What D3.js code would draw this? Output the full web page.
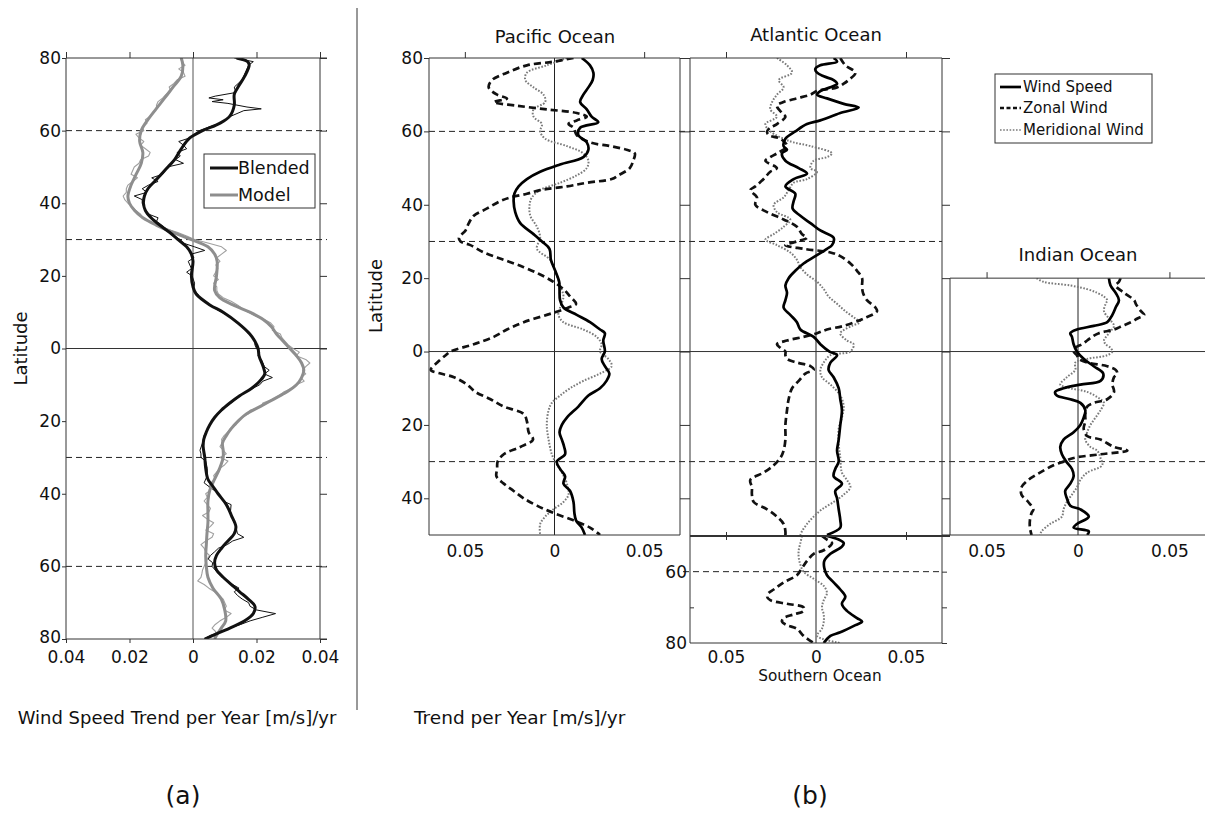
<!DOCTYPE html>
<html><head><meta charset="utf-8">
<script src="https://cdn.jsdelivr.net/npm/d3@7"></script>
<style>
html,body{margin:0;padding:0;background:#fff;}
svg{display:block;font-family:"DejaVu Sans",Verdana,sans-serif;}
</style></head>
<body><svg id="c" width="1205" height="814"></svg>
<script>
// ---------- DATA: panel (a) [latitude, trend] ----------
const blendedSmooth = [[80,0.0137],[79,0.0172],[78,0.0177],[75,0.0163],[72,0.0142],[70,0.0130],[67,0.0130],[64,0.0116],[62,0.0084],[60,0.0030],[58,-0.0010],[55,-0.0037],[52,-0.0058],[50,-0.0079],[47,-0.0110],[44,-0.0142],[42,-0.0153],[40,-0.0156],[38,-0.0150],[36,-0.0132],[34,-0.0105],[32,-0.0074],[30,-0.0047],[28,-0.0020],[26,-0.0005],[24,0.0000],[20,-0.0005],[17,0.0000],[15,0.0010],[12,0.0053],[10,0.0095],[7,0.0142],[4,0.0179],[2,0.0195],[0,0.0205],[-2,0.0208],[-5,0.0221],[-7,0.0226],[-9,0.0210],[-11,0.0184],[-13,0.0147],[-15,0.0116],[-17,0.0089],[-19,0.0068],[-21,0.0053],[-23,0.0042],[-25,0.0034],[-27,0.0032],[-30,0.0037],[-33,0.0040],[-36,0.0047],[-38,0.0063],[-40,0.0079],[-43,0.0105],[-46,0.0121],[-49,0.0135],[-51,0.0130],[-53,0.0110],[-55,0.0090],[-57,0.0074],[-59,0.0068],[-61,0.0074],[-63,0.0095],[-65,0.0121],[-67,0.0147],[-69,0.0174],[-71,0.0195],[-73,0.0190],[-75,0.0163],[-77,0.0116],[-79,0.0063],[-80,0.0037]];
const blendedRaw = [[80,0.013],[79,0.019],[78,0.0175],[76,0.0165],[74,0.0155],[72,0.013],[70.5,0.0135],[69.5,0.007],[69,0.005],[68.5,0.0095],[68,0.006],[67.5,0.011],[66.5,0.017],[66,0.0215],[65.5,0.016],[64,0.012],[62,0.0085],[61,0.005],[60,0.002],[59,0.0005],[58,-0.001],[57,-0.0045],[56,-0.003],[55,-0.002],[54,-0.005],[53,-0.004],[52,-0.0055],[51,-0.003],[50,-0.008],[48,-0.0095],[47,-0.013],[46,-0.011],[45,-0.014],[44,-0.016],[43,-0.0145],[42,-0.0185],[41,-0.016],[40,-0.016],[39,-0.0155],[37,-0.014],[36,-0.011],[35,-0.0115],[34,-0.010],[33,-0.0085],[32,-0.0075],[31,-0.006],[30,-0.004],[29,-0.003],[28,0.0005],[27,0.0037],[26,-0.0005],[25,0.0003],[24,-0.0015],[22,-0.0005],[21,-0.002],[20,-0.0003],[18,0.0005],[16,0.0002],[15,0.0015],[14,0.002],[12,0.005],[11,0.007],[10,0.009],[9,0.011],[8,0.0125],[7,0.014],[6,0.0155],[5,0.0165],[4,0.0175],[3,0.019],[2,0.0195],[1,0.0195],[0,0.020],[-1,0.021],[-2,0.0205],[-3,0.0215],[-5,0.0225],[-6,0.024],[-7,0.0225],[-8,0.025],[-9,0.022],[-10,0.021],[-12,0.0165],[-14,0.0135],[-16,0.0105],[-18,0.008],[-20,0.006],[-22,0.0048],[-24,0.0035],[-26,0.003],[-28,0.0022],[-29,0.0025],[-30,0.0025],[-31,0.004],[-33,0.0045],[-35,0.0045],[-37,0.0035],[-38,0.005],[-40,0.0082],[-42,0.0095],[-43,0.012],[-45,0.0118],[-47,0.0125],[-49,0.0135],[-51,0.014],[-52,0.016],[-53,0.0125],[-54,0.0108],[-55,0.008],[-56,0.0068],[-57,0.0055],[-58,0.0048],[-59,0.0062],[-60,0.006],[-62,0.008],[-64,0.0105],[-65,0.0125],[-66,0.0145],[-67,0.013],[-68,0.014],[-69,0.0155],[-70,0.0175],[-71,0.018],[-72,0.020],[-73,0.026],[-74,0.022],[-75,0.018],[-76,0.015],[-77,0.0115],[-78,0.009],[-79,0.0055],[-80,0.0035]];
const modelSmooth = [[80,-0.0037],[78,-0.0032],[75,-0.0037],[72,-0.0063],[69,-0.0089],[66,-0.0116],[63,-0.0142],[60,-0.0163],[57,-0.0168],[54,-0.0158],[51,-0.0163],[48,-0.0179],[45,-0.0195],[42,-0.0205],[40,-0.0200],[38,-0.0184],[36,-0.0158],[34,-0.0116],[32,-0.0063],[30,-0.0005],[28,0.0047],[26,0.0068],[24,0.0076],[20,0.0074],[16,0.0068],[14,0.0084],[12,0.0126],[10,0.0179],[8,0.0221],[6,0.0247],[4,0.0263],[2,0.0284],[0,0.0305],[-2,0.0326],[-4,0.0342],[-6,0.0349],[-8,0.0342],[-10,0.0326],[-12,0.0295],[-14,0.0253],[-16,0.0211],[-18,0.0168],[-20,0.0142],[-22,0.0121],[-24,0.0105],[-26,0.0093],[-28,0.0095],[-30,0.0095],[-33,0.0084],[-36,0.0068],[-39,0.0053],[-42,0.0047],[-45,0.0047],[-48,0.0047],[-51,0.0044],[-54,0.0042],[-57,0.0040],[-60,0.0042],[-63,0.0047],[-66,0.0063],[-69,0.0089],[-72,0.0100],[-75,0.0103],[-77,0.0089],[-79,0.0074],[-80,0.0068]];
const modelRaw = [[80,-0.004],[79,-0.0035],[78,-0.0025],[77,-0.0045],[76,-0.003],[75,-0.0025],[74,-0.005],[73,-0.006],[72,-0.0075],[71,-0.007],[70,-0.0085],[69,-0.0095],[68,-0.011],[67,-0.0115],[66,-0.0115],[65,-0.0125],[64,-0.0135],[63,-0.015],[62,-0.0145],[61,-0.016],[60,-0.0155],[59,-0.018],[58,-0.017],[57,-0.0155],[56,-0.0165],[55,-0.015],[54,-0.0135],[53,-0.014],[52,-0.0165],[51,-0.017],[50,-0.0185],[48,-0.0195],[47,-0.0175],[46,-0.019],[45,-0.0205],[44,-0.021],[43,-0.021],[42,-0.022],[41,-0.0215],[40,-0.0205],[39,-0.019],[38,-0.018],[37,-0.0165],[36,-0.016],[35,-0.0135],[34,-0.0115],[33,-0.0085],[32,-0.005],[31,-0.002],[30,0.0005],[29,0.005],[28,0.009],[27,0.0105],[26,0.009],[25,0.0075],[24,0.0085],[23,0.0072],[22,0.0078],[20,0.0065],[19,0.008],[18,0.0065],[17,0.0075],[16,0.0075],[15,0.008],[14,0.0095],[13,0.012],[12,0.014],[11,0.0155],[10,0.0175],[9,0.0195],[8,0.0225],[7,0.0245],[6,0.0255],[5,0.025],[4,0.0275],[3,0.028],[2,0.029],[1,0.030],[0,0.0315],[-1,0.0335],[-2,0.0325],[-3,0.0355],[-4,0.0368],[-5,0.0355],[-6,0.0345],[-7,0.0355],[-8,0.034],[-9,0.035],[-10,0.0325],[-11,0.031],[-12,0.0285],[-13,0.027],[-14,0.025],[-15,0.022],[-16,0.0215],[-17,0.018],[-18,0.0175],[-19,0.0155],[-20,0.014],[-21,0.0135],[-22,0.0118],[-23,0.011],[-24,0.0098],[-25,0.009],[-26,0.0092],[-27,0.0085],[-28,0.0095],[-29,0.0105],[-30,0.0085],[-31,0.011],[-32,0.010],[-33,0.0085],[-34,0.0075],[-35,0.0065],[-36,0.007],[-37,0.0055],[-38,0.005],[-39,0.0055],[-40,0.004],[-41,0.0045],[-42,0.0035],[-43,0.0045],[-44,0.0055],[-45,0.005],[-46,0.003],[-47,0.0045],[-48,0.0065],[-49,0.0055],[-50,0.004],[-51,0.0065],[-52,0.006],[-53,0.004],[-54,0.0025],[-55,0.0035],[-56,0.004],[-57,0.0052],[-58,0.0045],[-59,0.004],[-60,0.0035],[-61,0.003],[-62,0.0028],[-63,0.0025],[-64,0.0015],[-65,0.0035],[-66,0.005],[-67,0.0068],[-68,0.0082],[-69,0.0095],[-70,0.010],[-71,0.0105],[-72,0.0098],[-73,0.012],[-74,0.0105],[-75,0.0085],[-76,0.007],[-77,0.006],[-78,0.0072],[-79,0.0068],[-80,0.0068]];

// ---------- DATA: panel (b) [latitude, trend] ----------
const pacificSpeed = [[80,0.0152],[78,0.0198],[76,0.0217],[74,0.0213],[72,0.0189],[70,0.0161],[68,0.0143],[66,0.0180],[64,0.0207],[62.5,0.0244],[61,0.0143],[59,0.0133],[57,0.0180],[55,0.0189],[53,0.0161],[51,0.0031],[49,-0.0080],[47,-0.0154],[45,-0.0200],[43,-0.0224],[41,-0.0228],[38,-0.0219],[35,-0.0191],[32,-0.0117],[30,-0.0070],[28,-0.0028],[25,-0.0020],[22,0.0004],[19,0.0026],[17,0.0028],[14,0.0031],[12,0.0050],[10,0.0124],[8,0.0198],[6,0.0254],[5,0.0281],[3,0.0272],[0,0.0281],[-2,0.0263],[-4,0.0281],[-6,0.0306],[-8,0.0290],[-10,0.0254],[-12,0.0189],[-15,0.0133],[-18,0.0069],[-20,0.0041],[-22,0.0028],[-24,0.0041],[-26,0.0054],[-28,0.0059],[-30,0.0013],[-32,0.0031],[-34,0.0059],[-36,0.0050],[-38,0.0087],[-41,0.0106],[-44,0.0111],[-46,0.0120],[-48,0.0152],[-50,0.0170]];
const pacificZonal = [[80,0.0106],[79,-0.0006],[78,-0.0154],[76,-0.0265],[74,-0.0348],[72,-0.0367],[70,-0.0320],[69,-0.0265],[68,-0.0339],[67,-0.0209],[66,-0.0043],[65,0.0124],[64,0.0180],[63,0.0124],[62,0.0078],[61,0.0106],[59,0.0124],[57,0.0198],[56,0.0309],[55,0.0402],[54,0.0448],[52,0.0439],[50,0.0420],[48,0.0356],[47,0.0319],[46,0.0180],[45,0.0069],[44,-0.0080],[43,-0.0154],[42,-0.0246],[41,-0.0302],[39,-0.0376],[37,-0.0450],[35,-0.0478],[33,-0.0496],[31,-0.0533],[30,-0.0524],[29,-0.0469],[27,-0.0394],[25,-0.0283],[23,-0.0172],[21,-0.0080],[19,-0.0006],[17,0.0050],[15,0.0087],[13,0.0120],[12,0.0078],[11,0.0022],[10,-0.0043],[8,-0.0172],[6,-0.0265],[4,-0.0339],[2,-0.0450],[0,-0.0580],[-1,-0.0607],[-3,-0.0654],[-5,-0.0690],[-6,-0.0635],[-7,-0.0561],[-9,-0.0487],[-11,-0.0441],[-13,-0.0357],[-15,-0.0283],[-17,-0.0172],[-19,-0.0154],[-22,-0.0144],[-24,-0.0120],[-26,-0.0191],[-28,-0.0283],[-30,-0.0317],[-32,-0.0320],[-34,-0.0324],[-36,-0.0283],[-38,-0.0228],[-40,-0.0172],[-42,-0.0098],[-44,-0.0006],[-46,0.0106],[-48,0.0198],[-50,0.0254]];
const pacificMerid = [[80,0.0069],[78,-0.0043],[76,-0.0154],[74,-0.0163],[72,-0.0117],[70,-0.0061],[68,-0.0052],[66,-0.0117],[64,-0.0117],[62,-0.0070],[60,-0.0080],[58,-0.0052],[56,0.0069],[54,0.0161],[52,0.0189],[50,0.0180],[48,0.0124],[46,0.0031],[44,-0.0080],[42,-0.0126],[40,-0.0139],[37,-0.0135],[34,-0.0098],[31,-0.0080],[28,-0.0098],[25,-0.0024],[22,0.0004],[18,0.0031],[15,0.0050],[12,0.0031],[10,0.0022],[8,0.0050],[6,0.0161],[4,0.0235],[2,0.0263],[0,0.0254],[-2,0.0300],[-4,0.0319],[-6,0.0254],[-8,0.0161],[-10,0.0087],[-12,0.0031],[-14,-0.0015],[-16,-0.0033],[-20,-0.0043],[-24,-0.0033],[-28,-0.0015],[-30,0.0004],[-33,0.0041],[-36,0.0069],[-39,0.0078],[-41,0.0050],[-43,-0.0006],[-45,-0.0052],[-47,-0.0080],[-50,-0.0080]];

const atlanticSpeed = [[80,0.0098],[79,0.0117],[78,0.0024],[77,-0.0004],[76,0.0006],[75,0.0043],[74,0.0098],[73,0.0117],[72,0.0080],[71,0.0024],[70,0.0006],[69,0.0061],[67.5,0.0154],[66.5,0.0237],[65,0.0135],[63,0.0024],[62,-0.0050],[60,-0.0115],[58,-0.0170],[56,-0.0180],[55,-0.0161],[54,-0.0189],[52,-0.0170],[50,-0.0096],[48.5,-0.0050],[47,-0.0124],[45,-0.0170],[43,-0.0115],[41,-0.0124],[39,-0.0130],[37,-0.0087],[35,-0.0031],[33,0.0024],[31,0.0098],[29,0.0089],[28,0.0061],[26,-0.0004],[24,-0.0069],[22,-0.0115],[20,-0.0152],[18,-0.0170],[16,-0.0161],[14,-0.0170],[12,-0.0180],[10,-0.0143],[8,-0.0106],[6,-0.0087],[4,-0.0013],[2,0.0024],[0,0.0075],[-1,0.0117],[-3,0.0080],[-5,0.0070],[-7,0.0098],[-10,0.0126],[-13,0.0135],[-16,0.0144],[-20,0.0135],[-24,0.0126],[-27,0.0117],[-30,0.0126],[-32,0.0107],[-34,0.0098],[-36,0.0144],[-38,0.0107],[-40,0.0117],[-43,0.0126],[-46,0.0135],[-48,0.0135],[-50,0.0061]];
const atlanticZonal = [[80,0.0135],[78,0.0163],[76,0.0219],[74,0.0181],[73,0.0154],[72,0.0117],[71,0.0006],[70,-0.0031],[69,-0.0106],[68,-0.0180],[67,-0.0217],[65,-0.0189],[64,-0.0170],[62,-0.0217],[61,-0.0254],[60,-0.0272],[59,-0.0263],[58,-0.0198],[56,-0.0161],[54,-0.0217],[53,-0.0254],[52,-0.0281],[50,-0.0217],[49,-0.0254],[47,-0.0291],[45,-0.0337],[44,-0.0365],[42,-0.0328],[40,-0.0337],[38,-0.0272],[36,-0.0180],[34,-0.0106],[32,-0.0078],[31,-0.0050],[30,-0.0106],[29,-0.0170],[28,-0.0069],[27,0.0080],[26,0.0135],[24,0.0191],[22,0.0228],[20,0.0256],[18,0.0256],[16,0.0261],[14,0.0283],[12,0.0330],[11,0.0339],[9,0.0265],[7,0.0154],[6,0.0061],[5,0.0006],[4,-0.0069],[3,-0.0161],[2,-0.0217],[1,-0.0198],[0,-0.0170],[-1,-0.0170],[-2,-0.0161],[-3,-0.0106],[-4,-0.0031],[-5,-0.0013],[-6,-0.0059],[-8,-0.0096],[-10,-0.0133],[-13,-0.0152],[-16,-0.0161],[-20,-0.0170],[-24,-0.0170],[-27,-0.0180],[-29,-0.0198],[-31,-0.0235],[-33,-0.0291],[-35,-0.0365],[-37,-0.0356],[-39,-0.0356],[-41,-0.0346],[-43,-0.0272],[-45,-0.0217],[-47,-0.0180],[-49,-0.0170],[-50,-0.0170]];
const atlanticMerid = [[80,-0.0217],[78,-0.0161],[76,-0.0133],[74,-0.0207],[72,-0.0180],[70,-0.0217],[68,-0.0244],[66,-0.0254],[64,-0.0217],[62,-0.0281],[60,-0.0254],[58,-0.0180],[57,-0.0124],[56,-0.0031],[54,0.0089],[53,0.0061],[52,-0.0013],[50,-0.0031],[49,0.0006],[47,-0.0050],[46,-0.0124],[44,-0.0152],[42,-0.0180],[40,-0.0235],[38,-0.0217],[36,-0.0143],[34,-0.0180],[32,-0.0235],[30.5,-0.0281],[29,-0.0217],[27,-0.0143],[25,-0.0106],[23,-0.0087],[21,-0.0050],[19,0.0006],[17,0.0043],[15,0.0070],[13,0.0117],[11,0.0163],[9,0.0219],[8,0.0246],[7,0.0200],[5,0.0135],[3,0.0172],[2,0.0209],[0,0.0191],[-1,0.0080],[-3,0.0043],[-5,0.0024],[-7,0.0033],[-9,0.0080],[-12,0.0135],[-15,0.0154],[-18,0.0144],[-21,0.0126],[-25,0.0126],[-29,0.0135],[-33,0.0144],[-35,0.0172],[-37,0.0191],[-39,0.0154],[-41,0.0098],[-43,0.0033],[-45,-0.0013],[-47,-0.0050],[-49,-0.0078],[-50,-0.0087]];

const southernSpeed = [[-50,0.0061],[-51,0.0126],[-52,0.0154],[-53,0.0144],[-55,0.0080],[-57,0.0046],[-59,0.0046],[-61,0.0061],[-63,0.0098],[-65,0.0135],[-67,0.0163],[-69,0.0144],[-71,0.0172],[-73,0.0228],[-74,0.0256],[-75,0.0219],[-77,0.0135],[-78,0.0080],[-80,0.0043]];
const southernZonal = [[-50,0.0033],[-51,0.0061],[-52,0.0089],[-54,0.0043],[-55,-0.0013],[-57,-0.0050],[-59,-0.0078],[-61,-0.0106],[-63,-0.0180],[-65,-0.0235],[-66,-0.0263],[-67,-0.0272],[-68,-0.0254],[-69,-0.0161],[-70,-0.0069],[-71,-0.0069],[-72,-0.0124],[-73,-0.0180],[-74,-0.0189],[-75,-0.0161],[-76,-0.0106],[-78,-0.0069],[-80,-0.0013]];
const southernMerid = [[-50,-0.0078],[-52,-0.0087],[-54,-0.0096],[-56,-0.0096],[-58,-0.0087],[-60,-0.0069],[-62,-0.0013],[-64,0.0043],[-66,0.0061],[-68,0.0043],[-70,0.0033],[-72,0.0043],[-74,0.0043],[-76,0.0033],[-78,0.0006],[-80,0.0135]];

const indianSpeed = [[20,0.0169],[18,0.0178],[16,0.0206],[14,0.0224],[12,0.0206],[10,0.0188],[8,0.0160],[7,0.0086],[6,-0.0006],[5,-0.0042],[4,-0.0033],[2,-0.0024],[0,-0.0006],[-2,0.0031],[-4,0.0086],[-6,0.0138],[-8,0.0123],[-9,0.0013],[-10,-0.0079],[-11,-0.0125],[-12,-0.0116],[-13,-0.0042],[-14,0.0013],[-16,0.0040],[-18,0.0031],[-20,0.0013],[-22,-0.0024],[-24,-0.0079],[-26,-0.0097],[-28,-0.0088],[-30,-0.0064],[-32,-0.0033],[-34,-0.0024],[-36,-0.0042],[-38,-0.0070],[-40,-0.0061],[-42,-0.0042],[-43,0.0013],[-45,0.0059],[-47,-0.0006],[-48,-0.0024],[-49,0.0059],[-50,0.0050]];
const indianZonal = [[20,0.0233],[19,0.0224],[18,0.0206],[16,0.0252],[14,0.0307],[13,0.0316],[11,0.0344],[10,0.0362],[9,0.0325],[8,0.0289],[7,0.0243],[6,0.0197],[5,0.0114],[4,0.0077],[3,0.0050],[2,0.0022],[1,-0.0015],[0,-0.0024],[-1,-0.0006],[-2,0.0004],[-3,0.0050],[-4,0.0160],[-5,0.0206],[-6,0.0215],[-7,0.0197],[-9,0.0188],[-11,0.0197],[-13,0.0160],[-14,0.0086],[-15,0.0050],[-17,0.0040],[-19,0.0040],[-21,0.0031],[-23,0.0050],[-24,0.0123],[-26,0.0197],[-27,0.0270],[-28,0.0123],[-29,-0.0024],[-30,-0.0079],[-31,-0.0134],[-33,-0.0208],[-35,-0.0272],[-37,-0.0309],[-39,-0.0309],[-41,-0.0272],[-43,-0.0244],[-44,-0.0254],[-46,-0.0263],[-48,-0.0263],[-50,-0.0254]];
const indianMerid = [[20,-0.0226],[19,-0.0189],[18,-0.0042],[17,0.0050],[16,0.0105],[15,0.0142],[14,0.0160],[13,0.0151],[11,0.0142],[9,0.0169],[7,0.0197],[5,0.0169],[3,0.0142],[2,0.0151],[1,0.0178],[0,0.0188],[-1,0.0160],[-2,0.0050],[-3,-0.0015],[-5,-0.0015],[-7,-0.0061],[-9,-0.0097],[-10,-0.0042],[-11,0.0050],[-13,0.0123],[-14,0.0142],[-16,0.0123],[-18,0.0096],[-20,0.0068],[-22,0.0050],[-24,0.0040],[-26,0.0068],[-27,0.0105],[-29,0.0123],[-31,0.0132],[-33,0.0050],[-35,0.0013],[-37,-0.0006],[-39,-0.0033],[-41,-0.0061],[-43,-0.0079],[-45,-0.0088],[-47,-0.0153],[-49,-0.0199],[-50,-0.0208]];

// ---------- tick labels ----------
const ticksA_x = [-0.04,-0.02,0,0.02,0.04];
const ticksA_y = [80,60,40,20,0,-20,-40,-60,-80];
const ticksB_x = [-0.05,0,0.05];
const ticksB_y = [80,60,40,20,0,-20,-40];
const ticksS_y = [-60,-70,-80];

// ---------- drawing ----------
const svg = d3.select("#c");
const ink = "#333";
const absFmt = d => d === 0 ? "0" : String(Math.abs(d));
const F = "DejaVu Sans, Verdana, sans-serif";
const TICK_FS = 17;

const defs = svg.append("defs");
function clip(id, x, y, w, h){ defs.append("clipPath").attr("id", id).append("rect").attr("x",x).attr("y",y).attr("width",w).attr("height",h); return "url(#"+id+")"; }

function styleAxis(g, fs){
  g.select(".domain").remove();
  g.selectAll(".tick line").attr("stroke", ink);
  g.selectAll(".tick text").attr("font-family", F).attr("font-size", fs).attr("fill", "#111");
}
function hline(y, x1, x2, dashed, w){
  svg.append("line").attr("x1",x1).attr("x2",x2).attr("y1",y).attr("y2",y)
    .attr("stroke", dashed ? "#222" : ink).attr("stroke-width", w||1)
    .attr("stroke-dasharray", dashed ? "6,4" : null);
}
function vline(x, y1, y2, col, w){
  svg.append("line").attr("x1",x).attr("x2",x).attr("y1",y1).attr("y2",y2).attr("stroke",col||ink).attr("stroke-width",w||1);
}
function drawSeries(data, xs, ys, opts, clipUrl){
  const line = d3.line().x(d => xs(d[1])).y(d => ys(d[0])).curve(opts.curve || d3.curveLinear);
  svg.append("path").datum(data).attr("d", line).attr("fill","none")
    .attr("stroke", opts.color).attr("stroke-width", opts.width)
    .attr("stroke-dasharray", opts.dash || null)
    .attr("stroke-linejoin","round")
    .attr("clip-path", clipUrl);
}

// ===== Panel (a) =====
const xA = d3.scaleLinear().domain([-0.04, 0.04]).range([66, 320]);
const yA = d3.scaleLinear().domain([80, -80]).range([58, 639]);
const clipA = clip("ca", 66, 58, 254, 581);

vline(xA(0), yA(80), yA(-80), "#555", 1);
hline(yA(0), xA(-0.04), xA(0.04)+7, false, 1);
[60,30,-30,-60].forEach(l => hline(yA(l), xA(-0.04), xA(0.04)+7, true, 1));

drawSeries(modelRaw, xA, yA, {color:"#a0a0a0", width:1.1}, clipA);
drawSeries(blendedRaw, xA, yA, {color:"#111", width:1}, clipA);
drawSeries(modelSmooth, xA, yA, {color:"#8e8e8e", width:3, curve:d3.curveCatmullRom}, clipA);
drawSeries(blendedSmooth, xA, yA, {color:"#111", width:3, curve:d3.curveCatmullRom}, clipA);

vline(xA(-0.04), yA(80), yA(-80));
vline(xA(0.04), yA(80), yA(-80));
hline(yA(80), xA(-0.04), xA(0.04)+7);
hline(yA(-80), xA(-0.04), xA(0.04)+7);

svg.append("g").attr("transform",`translate(0,${yA(-80)})`)
  .call(d3.axisBottom(xA).tickValues(ticksA_x).tickSize(4).tickPadding(8).tickFormat(absFmt))
  .call(g => styleAxis(g, TICK_FS));
svg.append("g").attr("transform",`translate(0,${yA(80)})`)
  .call(d3.axisTop(xA).tickValues(ticksA_x).tickSize(6).tickFormat(""))
  .call(g => styleAxis(g, TICK_FS));
svg.append("g").attr("transform",`translate(${xA(-0.04)},0)`)
  .call(d3.axisLeft(yA).tickValues(ticksA_y).tickSize(4).tickPadding(1).tickFormat(absFmt))
  .call(g => { styleAxis(g, TICK_FS); g.selectAll(".tick").filter(d => d === -80).select("text").attr("dy","0.2em"); });
svg.append("g").attr("transform",`translate(${xA(0.04)},0)`)
  .call(d3.axisRight(yA).tickValues(ticksA_y).tickSize(7).tickFormat(""))
  .call(g => styleAxis(g, TICK_FS));

svg.append("text").attr("x",20).attr("y",yA(0)).attr("transform",`rotate(-90,20,${yA(0)})`)
  .attr("text-anchor","middle").attr("dominant-baseline","central")
  .attr("font-family",F).attr("font-size",18).attr("fill","#111").text("Latitude");

const legA = svg.append("g");
legA.append("rect").attr("x",204).attr("y",154).attr("width",111).attr("height",54).attr("fill","#fff").attr("stroke","#333");
[["Blended","#111",168],["Model","#8e8e8e",195]].forEach(([t,c,y]) => {
  legA.append("line").attr("x1",210).attr("x2",238).attr("y1",y).attr("y2",y).attr("stroke",c).attr("stroke-width",3);
  legA.append("text").attr("x",238).attr("y",y).attr("dominant-baseline","central")
    .attr("font-family",F).attr("font-size",17.5).attr("fill","#111").text(t);
});

svg.append("text").attr("x",177).attr("y",724).attr("text-anchor","middle")
  .attr("font-family",F).attr("font-size",18).attr("fill","#111").text("Wind Speed Trend per Year [m/s]/yr");
svg.append("text").attr("x",183).attr("y",804).attr("text-anchor","middle")
  .attr("font-family",F).attr("font-size",25).attr("fill","#111").text("(a)");

vline(357, 8, 710, "#333", 1);

// ===== Panel (b) =====
const yB = d3.scaleLinear().domain([80, -50]).range([58, 535]);
const xP = d3.scaleLinear().domain([-0.07, 0.07]).range([429, 680]);
const xT = d3.scaleLinear().domain([-0.07, 0.07]).range([690, 942]);
const xI = d3.scaleLinear().domain([-0.07, 0.07]).range([950, 1206]);
const yS = d3.scaleLinear().domain([-50, -80]).range([536, 643]);

const clipP = clip("cp", 429, 58, 251, 477);
const clipT = clip("ct", 690, 58, 252, 478);
const clipI = clip("ci", 950, yB(20), 256, 535 - yB(20));
const clipS = clip("cs", 690, 536, 252, 107);

vline(xP(0), yB(80), yB(-50), "#222", 1);
vline(xT(0), yB(80), yS(-80), "#222", 1);
vline(xI(0), yB(20), yB(-50), "#222", 1);
hline(yB(0), 429, 1205, false, 1);
hline(yB(60), 429, 942, true, 1);
hline(yB(30), 429, 942, true, 1);
hline(yB(-30), 429, 1205, true, 1);
hline(yS(-60), 683, 942, true, 1);

const stSpeed = {color:"#000", width:2.7, curve:d3.curveCatmullRom};
const stZonal = {color:"#111", width:2.7, dash:"7,4", curve:d3.curveCatmullRom};
const stMerid = {color:"#7a7a7a", width:2, dash:"1.6,1.6", curve:d3.curveCatmullRom};

[[pacificMerid,stMerid],[pacificZonal,stZonal],[pacificSpeed,stSpeed]].forEach(([d,s]) => drawSeries(d, xP, yB, s, clipP));
[[atlanticMerid,stMerid],[atlanticZonal,stZonal],[atlanticSpeed,stSpeed]].forEach(([d,s]) => drawSeries(d, xT, yB, s, clipT));
[[southernMerid,stMerid],[southernZonal,stZonal],[southernSpeed,stSpeed]].forEach(([d,s]) => drawSeries(d, xT, yS, s, clipS));
[[indianMerid,stMerid],[indianZonal,stZonal],[indianSpeed,stSpeed]].forEach(([d,s]) => drawSeries(d, xI, yB, s, clipI));

vline(429, 58, 535); vline(680, 58, 535);
hline(58, 429, 680); hline(535, 429, 680);
vline(690, 58, 643); vline(942, 58, 643);
hline(58, 690, 942); hline(643, 690, 942);
hline(536, 690, 950, false, 2.2);
vline(950, yB(20), 535);
hline(yB(20), 950, 1205);
hline(535, 942, 1205);

// Pacific axes
svg.append("g").attr("transform",`translate(0,535)`)
  .call(d3.axisBottom(xP).tickValues(ticksB_x).tickSize(0).tickPadding(10).tickFormat(absFmt))
  .call(g => styleAxis(g, TICK_FS));
svg.append("g").attr("transform",`translate(0,58)`)
  .call(d3.axisTop(xP).tickValues([-0.05,0.05]).tickSize(6).tickFormat(""))
  .call(g => styleAxis(g, TICK_FS));
svg.append("g").attr("transform",`translate(429,0)`)
  .call(d3.axisLeft(yB).tickValues(ticksB_y).tickSize(5).tickPadding(1).tickFormat(absFmt))
  .call(g => styleAxis(g, TICK_FS));
svg.append("g").attr("transform",`translate(680,0)`)
  .call(d3.axisRight(yB).tickValues(ticksB_y).tickSize(10).tickFormat(""))
  .call(g => styleAxis(g, TICK_FS));
// Atlantic axes
svg.append("g").attr("transform",`translate(0,58)`)
  .call(d3.axisTop(xT).tickValues([-0.05,0.05]).tickSize(6).tickFormat(""))
  .call(g => styleAxis(g, TICK_FS));
svg.append("g").attr("transform",`translate(942,0)`)
  .call(d3.axisRight(yB).tickValues([80,60,40,20]).tickSize(8).tickFormat(""))
  .call(g => styleAxis(g, TICK_FS));
svg.append("g").attr("transform",`translate(950,0)`)
  .call(d3.axisLeft(yB).tickValues([0,-20,-40]).tickSize(8).tickFormat(""))
  .call(g => styleAxis(g, TICK_FS));
// Southern axes
svg.append("g").attr("transform",`translate(0,643)`)
  .call(d3.axisBottom(xT).tickValues(ticksB_x).tickSize(0).tickPadding(8).tickFormat(absFmt))
  .call(g => styleAxis(g, TICK_FS));
svg.append("g").attr("transform",`translate(0,536)`)
  .call(d3.axisBottom(xT).tickValues([-0.05,0.05]).tickSize(4).tickFormat(""))
  .call(g => styleAxis(g, TICK_FS));
svg.append("g").attr("transform",`translate(0,536)`)
  .call(d3.axisTop(xT).tickValues([-0.05,0.05]).tickSize(4).tickFormat(""))
  .call(g => styleAxis(g, TICK_FS));
svg.append("g").attr("transform",`translate(690,0)`)
  .call(d3.axisLeft(yS).tickValues(ticksS_y).tickSize(0).tickPadding(3).tickFormat(d => d === -70 ? "" : absFmt(d)))
  .call(g => styleAxis(g, TICK_FS));
svg.append("g").attr("transform",`translate(690,0)`)
  .call(d3.axisRight(yS).tickValues([-70]).tickSize(4).tickFormat(""))
  .call(g => styleAxis(g, TICK_FS));
svg.append("g").attr("transform",`translate(942,0)`)
  .call(d3.axisRight(yS).tickValues(ticksS_y).tickSize(5).tickFormat(""))
  .call(g => styleAxis(g, TICK_FS));
// Indian axes
svg.append("g").attr("transform",`translate(0,535)`)
  .call(d3.axisBottom(xI).tickValues(ticksB_x).tickSize(0).tickPadding(10).tickFormat(absFmt))
  .call(g => styleAxis(g, TICK_FS));
svg.append("g").attr("transform",`translate(0,${yB(20)})`)
  .call(d3.axisTop(xI).tickValues([-0.05,0.05]).tickSize(6).tickFormat(""))
  .call(g => styleAxis(g, TICK_FS));

const title = (t, x, y, fs) => svg.append("text").attr("x",x).attr("y",y).attr("text-anchor","middle")
  .attr("font-family",F).attr("font-size",fs).attr("fill","#111").text(t);
title("Pacific Ocean", 555, 43, 18);
title("Atlantic Ocean", 816, 41, 18);
title("Indian Ocean", 1078, 261, 18);
title("Southern Ocean", 820, 681, 15.3);

svg.append("text").attr("x",375).attr("y",296).attr("transform","rotate(-90,375,296)")
  .attr("text-anchor","middle").attr("dominant-baseline","central")
  .attr("font-family",F).attr("font-size",18).attr("fill","#111").text("Latitude");
svg.append("text").attr("x",414).attr("y",724)
  .attr("font-family",F).attr("font-size",18.5).attr("fill","#111").text("Trend per Year [m/s]/yr");
svg.append("text").attr("x",810).attr("y",804).attr("text-anchor","middle")
  .attr("font-family",F).attr("font-size",25).attr("fill","#111").text("(b)");

const legB = svg.append("g");
legB.append("rect").attr("x",995).attr("y",74).attr("width",157).attr("height",69).attr("fill","#fff").attr("stroke","#333");
[["Wind Speed",stSpeed,87],["Zonal Wind",{...stZonal, dash:"4,2.5"},108],["Meridional Wind",{...stMerid, width:1.6},130]].forEach(([t,s,y]) => {
  legB.append("line").attr("x1",1000).attr("x2",1021).attr("y1",y).attr("y2",y)
    .attr("stroke",s.color).attr("stroke-width",s.width).attr("stroke-dasharray",s.dash||null);
  legB.append("text").attr("x",1023).attr("y",y).attr("dominant-baseline","central")
    .attr("font-family",F).attr("font-size",15).attr("fill","#111").text(t);
});
</script></body></html>
